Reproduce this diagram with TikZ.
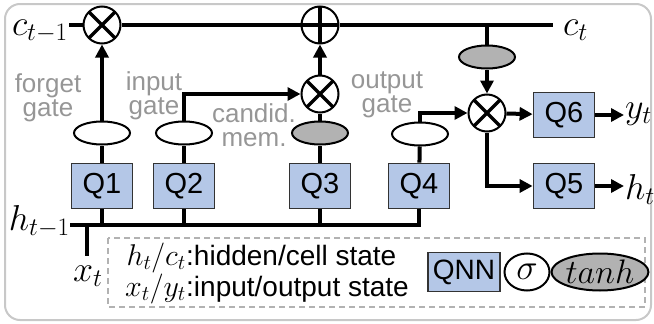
\RequirePackage{fix-cm}
\documentclass[tikz,border=0pt]{standalone}
\usepackage{fontspec}
\setsansfont{Liberation Sans}
\usetikzlibrary{arrows.meta,shapes.geometric,positioning}
\definecolor{q_blue}{RGB}{180, 199, 231}
\definecolor{t_gray}{RGB}{178, 178, 178}
\definecolor{l_gray}{RGB}{150, 150, 150}
\definecolor{b_gray}{RGB}{200, 200, 200}
\tikzstyle{qn}=[rectangle,fill=q_blue,draw=black!80,line width=1.8pt,
  minimum width=61pt,minimum height=45pt,inner sep=0pt,
  font=\sffamily\fontsize{29}{29}\selectfont]
\tikzstyle{sg}=[ellipse,fill=white,draw=black,line width=2pt,
  minimum width=56pt,minimum height=23pt,inner sep=0pt]
\tikzstyle{th}=[sg,fill=t_gray]
\tikzstyle{mul}=[circle,fill=white,draw=black,line width=2pt,minimum size=37pt,inner sep=0pt,
  path picture={\draw[line width=3.5pt]
    (path picture bounding box.north west) -- (path picture bounding box.south east)
    (path picture bounding box.north east) -- (path picture bounding box.south west);}]
\tikzstyle{add}=[circle,fill=white,draw=black,line width=2pt,minimum size=37pt,inner sep=0pt,
  path picture={\draw[line width=3.5pt]
    (path picture bounding box.north) -- (path picture bounding box.south)
    (path picture bounding box.east) -- (path picture bounding box.west);}]
\tikzstyle{gl}=[text=l_gray,align=center,inner sep=0pt,
  font=\sffamily\fontsize{26}{24}\selectfont]
\tikzstyle{ml}=[inner sep=1pt,font=\fontsize{36}{36}\selectfont]
\tikzstyle{lg}=[inner sep=0pt,font=\sffamily\fontsize{28}{28}\selectfont]
\tikzstyle{lm}=[inner sep=0pt,font=\fontsize{30}{30}\selectfont]
\tikzstyle{wire}=[line width=4pt]
\tikzstyle{arr}=[wire,-{Triangle[length=13pt,width=13pt]}]

\begin{document}
\begin{tikzpicture}[x=1pt,y=-1pt]
        \useasboundingbox (0,0) rectangle (654,324);
        \draw[b_gray,line width=2pt,rounded corners=15pt] (5,4) rectangle (651,320);
        % gates
        \node[style=mul] (m1) at (102,25) {};
        \node[style=add] (a1) at (320,25) {};
        \node[style=mul] (m2) at (320,94) {};
        \node[style=mul] (m3) at (487,113) {};
        \node[style=sg] (s1) at (102,133) {};
        \node[style=sg] (s2) at (184,133) {};
        \node[style=th] (t3) at (320,133) {};
        \node[style=sg] (s4) at (420,134) {};
        \node[style=th] (t5) at (487,57) {};
        \node[style=qn] (q1) at (102,186) {Q1};
        \node[style=qn] (q2) at (184,186) {Q2};
        \node[style=qn] (q3) at (320,186) {Q3};
        \node[style=qn] (q4) at (419,186) {Q4};
        \node[style=qn] (q6) at (564,115) {Q6};
        \node[style=qn] (q5) at (564,186) {Q5};
        % labels
        \node[style=ml,anchor=base east] (ct1) at (69,35) {$c_{t-1}$};
        \node[style=ml,anchor=base west] (ct) at (562,35) {$c_t$};
        \node[style=ml,anchor=base east] (ht1) at (71,230) {$h_{t-1}$};
        \node[style=ml,anchor=base west] (xt) at (72,281) {$x_t$};
        \node[style=ml,anchor=base west] (yt) at (624,118) {$y_t$};
        \node[style=ml,anchor=base west] (ht) at (624,199) {$h_t$};
        \node[style=gl] (fg) at (48,98) {forget\\gate};
        \node[style=gl] (ig) at (154,96) {input\\gate};
        \node[style=gl] (cm) at (254,125) {candid.\\mem.};
        \node[style=gl] (og) at (387,95) {output\\gate};
        \coordinate (cr) at (553,25);
        \coordinate (hl) at (70,225);
        \coordinate (hr) at (419,225);
        \coordinate (xb) at (87,256);
        % cell line
        \draw[style=wire] (ct1.east |- m1) to (m1);
        \draw[style=wire] (m1) to (a1);
        \draw[style=wire] (a1) to (cr);
        \draw[style=wire] (t5.north |- cr) to (t5);
        \draw[style=arr] (t5) to (m3);
        % hidden line
        \draw[style=wire] (hl) to (hr) to (q4.south);
        \draw[style=wire] (q1.south) to (q1.south |- hl);
        \draw[style=wire] (q2.south) to (q2.south |- hl);
        \draw[style=wire] (q3.south) to (q3.south |- hl);
        \draw[style=wire] (hl -| xb) to (xb);
        % gates
        \draw[style=wire] (q1) to (s1);
        \draw[style=wire] (q2) to (s2);
        \draw[style=wire] (q3) to (t3);
        \draw[style=wire] (q4) to (s4);
        \draw[style=arr] (s1) to (m1);
        \draw[style=arr] (s2.north) |- (m2.west);
        \draw[style=wire] (t3) to (m2);
        \draw[style=arr] (m2) to (a1);
        \draw[style=arr] (s4.north) |- (m3.west);
        \draw[style=arr] (m3) to (q6);
        \draw[style=arr] (m3.south) |- (q5.west);
        \draw[style=arr] (q6.east) to (q6.east -| yt.west);
        \draw[style=arr] (q5.east) to (q5.east -| ht.west);
        % legend
        \draw[gray!60,line width=1.5pt,dash pattern=on 6pt off 4pt] (108,238) rectangle (645,307);
        \node[style=lm,anchor=base east] (lh) at (186,265) {$h_t/c_t$};
        \node[style=lg,anchor=base west] (lht) at (186,265) {:hidden/cell state};
        \node[style=lm,anchor=base east] (lx) at (186,296) {$x_t/y_t$};
        \node[style=lg,anchor=base west] (lxt) at (186,296) {:input/output state};
        \node[style=qn,minimum width=72pt,minimum height=39pt,font=\sffamily\fontsize{28}{28}\selectfont] (kq) at (464,272) {QNN};
        \node[style=sg,minimum width=45pt,minimum height=37pt,font=\fontsize{36}{36}\selectfont] (ks) at (527,272) {$\sigma$};
        \node[style=th,minimum width=90pt,minimum height=37pt,font=\fontsize{34}{34}\selectfont] (kt) at (600,272) {$tanh$};
    \end{tikzpicture}
\end{document}
